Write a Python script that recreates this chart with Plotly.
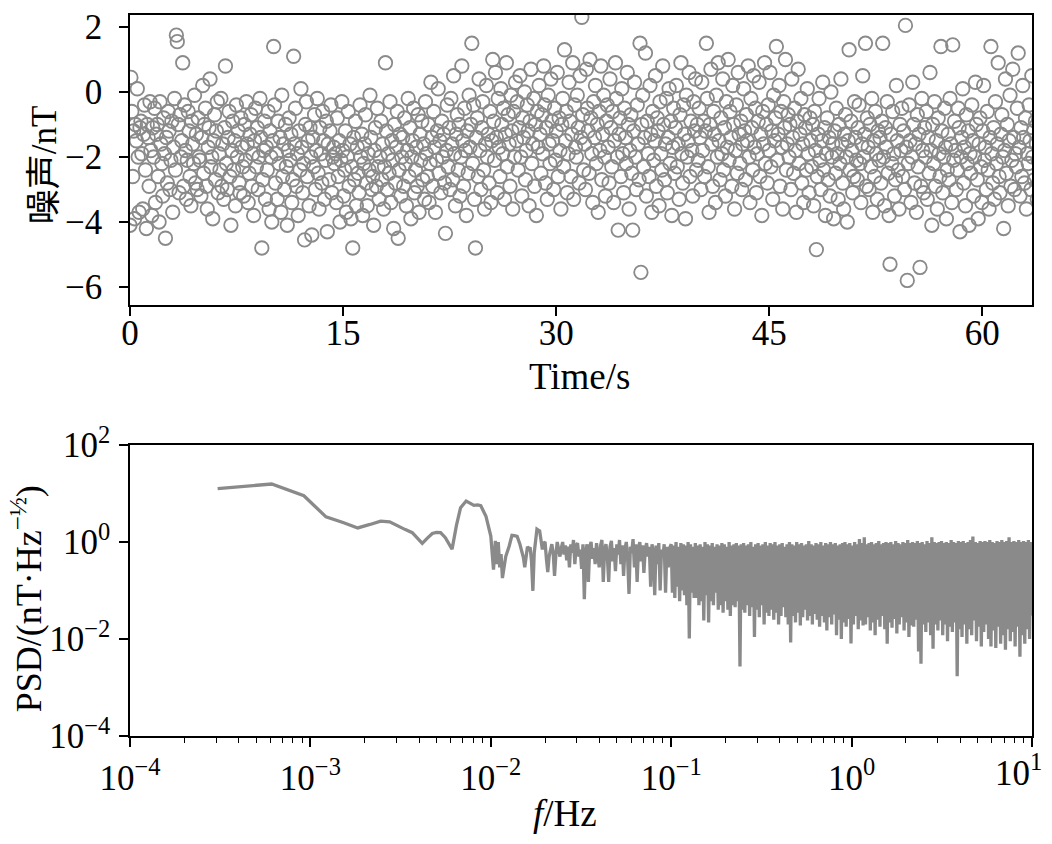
import numpy as np
import plotly.graph_objects as go

# ---- top panel: noise samples (nT), one sample every dt seconds ----
dt = 0.064
noise_nT = [
    -4.1, 0.45, -0.6, -2.6, -1.2, -3.9, -1.0, -1.5, 0.1, -2.0, -3.7, -1.1, -0.9, -1.9, -3.6, -1.3, -0.4, -2.4, -4.2, -1.0, -1.4, -2.9, -0.3, -1.8, -3.8,
    -1.1, -2.0, -0.5, -3.4, -1.3, -1.0, -2.6, -4.0, -0.3, -1.6, -2.2, -3.2, -0.8, -1.9, -4.5, -1.4, -2.8, -0.6, -1.2, -3.0, -2.1, -0.9, -3.7, -1.7, -0.2,
    -2.4, 1.75, 1.55, -1.0, -3.1, -0.7, -2.0, -1.5, 0.9, -2.9, -0.4, -1.8, -3.3, -2.1, -0.6, -1.2, -2.6, -3.5, -0.9, -1.6, -2.2, -0.1, -2.8, -1.3, -3.0,
    -0.8, -2.0, -2.1, -3.2, -1.4, 0.2, -2.5, -1.0, -0.5, -2.9, -3.6, -1.7, -1.1, 0.4, -2.3, -2.0, -3.9, -1.5, -0.7, -2.7, -1.2, -0.3, -3.1, -1.9, -2.4,
    -0.2, -2.9, -1.6, -3.3, -1.1, 0.8, -2.2, -3.0, -1.4, -0.6, -2.6, -4.1, -1.8, -0.9, -2.4, -1.5, -3.5, -0.4, -2.0, -1.2, -2.8, -3.1, -0.8, -1.7, -2.3,
    -3.2, -1.0, -2.1, -0.3, -1.6, -3.4, -2.5, -1.3, -0.7, -2.9, -1.9, -3.8, -1.5, -0.5, -2.3, -1.1, -3.0, -2.0, -0.2, -1.4, -4.8, -2.7, -1.8, -0.9, -3.3,
    -1.7, -2.4, -0.6, -3.6, -1.2, -2.0, -4.0, -1.5, 1.4, -0.4, -2.8, -1.9, -3.3, -0.9, -2.2, -1.4, -3.7, -0.1, -2.6, -1.6, -3.0, -1.0, -2.3, -4.1, -1.8,
    -0.8, -2.1, -1.3, -3.4, -2.7, 1.1, -1.6, -0.5, -2.9, -1.9, -3.8, -1.2, -2.4, 0.1, -1.7, -3.1, -2.2, -4.55, -1.0, -0.3, -2.6, -1.5, -3.5, -1.1, -2.0,
    -4.4, -1.4, -2.3, -0.7, -3.0, -1.8, -0.2, -2.5, -3.6, -1.1, -1.9, -2.8, -0.6, -1.5, -3.3, -2.1, -0.9, -4.3, -1.6, -2.7, -1.2, -0.4, -3.1, -2.0, -1.7,
    -2.2, -1.9, -3.4, -0.8, -2.6, -1.5, -4.0, -2.1, -0.3, -1.8, -3.2, -2.4, -1.2, -3.7, -2.0, -0.6, -2.9, -1.6, -3.9, -2.3, -4.8, -1.4, -2.7, -0.9, -3.5,
    -1.7, -2.5, -3.1, -0.4, -2.0, -1.3, -3.8, -2.2, -1.6, -0.7, -2.8, -3.5, -1.9, -2.4, -0.1, -1.4, -3.0, -2.6, -4.1, -1.8, -1.1, -2.9, -0.5, -2.3, -3.3,
    -2.0, -0.9, -2.7, -1.6, -3.6, -2.3, 0.9, -1.2, -3.0, -1.9, -2.5, -0.3, -3.4, -1.5, -2.1, -4.2, -1.0, -2.8, -1.7, -0.6, -4.5, -2.4, -1.3, -3.2, -2.0,
    -1.4, -2.9, -0.8, -2.2, -3.5, -1.8, -0.2, -2.6, -1.1, -3.9, -2.0, -1.5, -0.5, -3.1, -2.4, -1.7, -2.9, -0.7, -3.7, -1.3, -2.1, -0.9, -2.7, -1.6, -3.3,
    -0.3, -1.9, -2.6, -1.0, -3.4, -2.2, 0.3, -1.4, -2.9, -0.6, -1.7, -3.7, -2.1, -1.2, 0.1, -2.5, -1.5, -3.1, -0.9, -2.0, -1.3, -2.8, -4.35, -1.8, -0.4,
    -2.3, -1.1, -3.0, -0.2, -1.6, -2.7, 0.5, -1.9, -3.5, -1.3, -0.7, -2.4, -1.0, -3.2, -2.0, 0.8, -1.5, -2.9, -0.5, -1.8, -3.8, -1.2, -2.5, -0.1, -1.7,
    -1.0, 1.5, -2.2, -0.4, -3.3, -4.8, -1.4, -0.8, -2.6, 0.4, -1.8, -3.0, -1.1, -0.3, -2.4, -3.6, -1.6, 0.2, -2.0, -1.3, -2.8, -0.6, -3.4, -1.5, 1.0,
    -0.9, -2.1, 0.6, -1.4, -3.1, -0.2, -1.7, -2.6, 0.1, -1.0, -1.9, -0.5, -3.3, -1.3, 0.9, -2.3, -0.7, -1.6, -2.9, -0.1, -1.2, -3.6, -0.6, -2.0, 0.3,
    -1.5, -0.3, -2.4, -1.1, 0.5, -2.0, -3.2, -0.8, -1.4, 0.0, -2.7, -1.8, -0.4, -1.2, -3.5, -0.9, 0.7, -2.2, -1.6, -0.2, -2.9, -1.0, -3.8, -0.6, -1.7,
    0.2, -1.3, -2.5, -0.7, -1.9, 0.8, -0.4, -2.8, -1.1, -3.3, -0.1, -1.6, -2.2, 0.4, -0.9, -1.5, -3.0, -0.5, -2.1, -1.2, 0.6, -2.6, -0.8, -1.8, -3.6,
    -1.0, -0.2, -2.3, 1.3, -1.5, -0.6, -3.1, -1.9, 0.3, -0.9, -2.6, -1.3, 0.9, -3.3, -0.4, -1.7, -2.0, -0.1, -1.1, -2.8, 0.5, -1.4, 2.3, -0.7, -2.4,
    -1.6, -3.0, 0.7, -0.5, -1.2, -2.5, 1.0, -0.8, -1.9, -3.4, -0.3, -1.4, 0.2, -2.2, -1.0, -3.7, -0.6, -1.8, 0.8, -2.7, -1.3, -0.1, -2.0, -3.2, -0.9,
    -0.4, -1.7, -2.8, 0.4, -1.1, -2.3, -0.6, -3.4, -1.5, 0.9, -0.2, -2.0, -4.25, -1.3, -0.8, -2.6, 0.1, -1.9, -3.1, -0.5, -1.4, -2.2, 0.6, -1.0, -3.6,
    -1.8, -0.7, -2.5, -4.25, -1.2, 0.3, -2.0, -3.0, -0.4, -1.6, -2.7, 1.5, -5.55, -1.0, -0.1, -2.3, -1.4, 1.2, -3.2, -0.9, -1.9, -2.6, 0.2, -1.3, -3.7,
    -0.6, -2.1, -1.5, 0.5, -2.9, -0.8, -1.2, -3.5, -0.3, -1.9, -2.4, 0.8, -1.0, -2.7, -1.6, -0.2, -3.1, -1.4, 0.1, -2.2, -0.9, -3.8, -1.7, -0.5, -2.5,
    -1.1, 0.2, -2.3, -1.6, -3.3, -0.7, 0.9, -1.9, -2.8, -0.4, -1.3, -3.9, -0.1, -2.0, -1.5, 0.6, -2.6, -0.9, -1.8, -3.2, -0.3, -1.2, 0.4, -2.4, -1.0,
    -2.1, -0.5, -1.4, -3.0, 0.3, -1.8, -0.9, -2.6, -1.2, 1.5, -0.2, -2.3, -3.7, -1.0, 0.7, -1.6, -2.9, -0.6, -1.3, -3.4, -0.1, -2.0, 0.9, -1.5, -2.7,
    -0.8, -1.9, 0.4, -2.4, -1.1, -3.2, -0.3, -1.7, 1.0, -2.1, -0.6, -1.4, -2.9, 0.2, -1.0, -3.6, -1.8, -0.4, -2.5, 0.6, -1.3, -2.2, -0.9, -3.0, -1.6,
    0.1, -1.2, -2.7, -0.7, -1.5, 0.8, -2.0, -3.4, -0.2, -1.1, -2.4, 0.5, -1.7, -0.5, -3.1, -1.9, -0.9, 0.3, -2.6, -1.3, -3.8, -0.6, -1.6, 0.9, -2.2,
    -1.0, -2.8, -0.4, -1.8, 0.6, -2.3, -1.2, -3.3, -0.1, -1.5, -0.8, 1.4, -2.1, -1.3, 0.2, -2.9, -0.6, -1.7, -3.6, -0.3, -1.1, 1.0, -2.4, -1.6, -0.7,
    -2.0, -1.0, -3.0, 0.4, -1.4, -2.5, -0.5, -1.8, -3.7, -0.9, 0.7, -2.2, -1.3, -0.2, -2.8, -1.6, -3.4, -0.7, -1.1, -2.4, 0.1, -1.9, -3.1, -0.8, -1.5,
    -2.3, -1.0, -3.5, -0.6, -1.8, -4.85, -2.6, -1.3, -0.2, -2.1, -3.0, -1.5, 0.3, -2.4, -1.1, -3.8, -1.9, -0.8, -2.7, -1.4, -3.2, 0.0, -2.0, -1.6, -3.9,
    -1.2, -2.5, -0.5, -1.9, -3.3, -1.0, -2.2, 0.4, -1.6, -2.8, -3.6, -1.3, -0.7, -2.0, -4.0, -1.5, 1.3, -2.4, -0.9, -1.8, -3.1, -2.6, -0.3, -1.4, -2.1,
    -2.7, -1.1, -0.4, -2.2, -3.4, -1.6, 0.5, -2.0, -1.3, 1.5, -2.9, -0.8, -1.7, -3.0, -1.0, -2.3, -0.2, -3.7, -1.5, -2.6, -0.6, -1.9, -3.3, -1.2, -2.1,
    -1.4, -2.8, -0.9, 1.5, -2.0, -3.5, -1.1, -1.7, -0.3, -2.5, -3.8, -5.3, -1.3, -2.2, -0.6, -1.9, -3.2, -2.7, 0.2, -1.5, -2.4, -3.6, -1.0, -1.8, -0.5,
    -2.6, -1.2, -3.0, 2.05, -1.7, -5.8, -2.2, -0.4, -1.5, -3.4, -2.0, 0.3, -1.0, -2.8, -1.6, -3.7, -0.7, -2.3, -1.3, -5.4, -2.9, -0.2, -1.8, -3.1, -1.1,
    -2.0, -0.6, -3.3, -1.4, -2.5, 0.6, -1.8, -4.1, -1.0, -2.2, -0.3, -2.9, -1.5, -3.6, -0.8, -1.9, -2.6, 1.4, -1.2, -3.1, -2.0, -0.5, -1.7, -3.9, -2.4,
    -1.3, -2.7, -0.2, -1.6, -3.4, 1.45, -2.1, -0.9, -1.8, -3.0, -2.4, -0.5, -1.1, -4.3, -2.0, -1.4, 0.1, -2.8, -1.7, -3.5, -0.7, -2.2, -1.2, -4.1, -1.9,
    -2.5, -0.4, -1.5, -3.2, -2.0, 0.3, -1.0, -2.7, -3.9, -1.6, -0.8, -2.3, -3.4, -1.2, 0.2, -2.1, -1.7, -3.0, -0.6, -2.4, -3.6, -1.4, 1.4, -1.9, -2.8,
    -1.1, -3.3, -0.3, -2.2, -1.6, 0.9, -2.6, -3.1, -1.3, -0.7, -2.0, -4.2, -1.8, 0.4, -2.5, -1.0, -3.5, -1.5, -0.1, -2.9, -2.1, 0.7, -1.4, -3.0, -1.9,
    -2.3, -0.5, 1.2, -1.7, -3.2, -1.1, -2.6, 0.2, -1.4, -2.8, -0.8, -3.6, -1.9, -2.2, -0.4, -1.5, -3.0, 0.5, -2.0, -1.2, -2.7, -0.9, -1.6, -3.3, -2.1,
]
time_s = np.arange(len(noise_nT)) * dt

# ---- bottom panel: PSD ----
# low-frequency part, read point by point
psd_low_f = [3.06e-4, 6.1e-4, 9.2e-4, 1.22e-3, 1.53e-3, 1.83e-3, 2.14e-3, 2.45e-3, 2.75e-3,
             3.06e-3, 3.36e-3, 3.67e-3, 3.98e-3, 4.17e-3, 4.45e-3, 4.74e-3, 5.0e-3, 5.27e-3,
             5.6e-3, 6.1e-3, 6.45e-3, 6.8e-3, 7.3e-3, 7.7e-3, 8.07e-3, 8.45e-3, 8.8e-3, 9.4e-3,
             1.0e-2, 1.035e-2, 1.06e-2, 1.08e-2, 1.10e-2, 1.12e-2, 1.14e-2, 1.16e-2, 1.21e-2,
             1.265e-2, 1.31e-2, 1.35e-2, 1.40e-2, 1.45e-2]
psd_low = [12.6, 15.7, 9.0, 3.3, 2.5, 1.95, 2.3, 2.7, 2.6,
           2.1, 1.8, 1.56, 1.1, 0.94, 1.2, 1.5, 1.58, 1.56,
           1.23, 0.71, 2.2, 5.1, 7.0, 6.2, 5.7, 5.8, 5.6, 3.4,
           1.33, 0.27, 1.05, 0.35, 1.0, 0.3, 0.56, 0.18, 0.5,
           0.83, 1.37, 1.35, 1.3, 0.9]

# 0.015 - 0.1 Hz
psd_mid = [0.65, 0.48, 0.30, 0.55, 0.80, 0.72, 0.77, 0.40, 0.098, 0.6, 1.2, 1.83, 1.75, 1.7, 1.1,
           0.7, 0.95, 1.0, 0.45, 0.24, 0.5, 0.65, 0.9, 0.6, 0.2, 0.55, 1.0, 0.7, 0.5, 0.75,
           1.0, 0.55, 0.85, 0.42, 0.8, 0.3, 0.9, 0.6, 1.1, 0.35, 0.85, 0.95, 0.5, 0.7, 0.28,
           0.9, 0.066, 0.6, 0.9, 0.15, 0.8, 1.0, 0.45, 0.75, 0.35, 0.95, 0.6, 0.3, 0.85, 1.1,
           0.15, 0.7, 0.9, 0.5, 0.15, 0.8, 1.05, 0.4, 0.75, 0.25, 0.9, 0.55, 1.1, 0.35, 0.85,
           0.2, 0.7, 1.0, 0.45, 0.085, 0.8, 0.6, 1.15, 0.3, 0.9, 0.15, 0.75, 1.0, 0.4, 0.85,
           0.23, 0.7, 0.95, 0.5, 0.8, 0.12, 0.9, 0.6, 0.08, 0.85, 0.35, 0.95, 0.1, 0.7, 0.5,
           0.9, 0.09, 0.8, 0.3, 0.75]
mid_f_start, mid_f_end = 0.0149, 0.098

# 0.1 - 10 Hz
psd_high = [
    0.9, 0.09, 0.85, 0.07, 1.0, 0.12, 0.8, 0.06, 0.95, 0.1, 0.9, 0.08, 0.85, 0.05, 1.0, 0.0102, 0.9, 0.09, 0.8, 0.07,
    0.95, 0.07, 0.85, 0.05, 0.9, 0.06, 0.8, 0.024, 1.0, 0.08, 0.9, 0.022, 0.85, 0.06, 0.95, 0.05, 0.8, 0.09, 0.9, 0.04,
    0.85, 0.05, 0.95, 0.035, 0.9, 0.06, 0.8, 0.04, 1.0, 0.03, 0.85, 0.05, 0.9, 0.045, 0.95, 0.06, 0.85, 0.0027, 0.9, 0.04,
    0.95, 0.035, 0.85, 0.05, 0.9, 0.03, 1.0, 0.045, 0.8, 0.011, 0.9, 0.04, 0.95, 0.028, 0.85, 0.05, 0.9, 0.02, 1.0, 0.035,
    0.85, 0.03, 0.95, 0.04, 0.9, 0.025, 1.0, 0.035, 0.85, 0.02, 0.9, 0.03, 0.95, 0.045, 0.8, 0.028, 0.9, 0.02, 1.0, 0.0085,
    0.9, 0.03, 0.85, 0.022, 1.0, 0.035, 0.9, 0.019, 0.95, 0.028, 0.85, 0.04, 0.9, 0.024, 1.05, 0.03, 0.9, 0.02, 0.85, 0.033,
    0.95, 0.025, 0.9, 0.018, 1.0, 0.03, 0.85, 0.022, 0.95, 0.015, 0.9, 0.028, 1.0, 0.02, 0.9, 0.032, 0.95, 0.012, 0.85, 0.025,
    0.9, 0.01, 0.95, 0.022, 1.0, 0.018, 0.9, 0.026, 0.95, 0.0081, 0.85, 0.02, 1.0, 0.03, 0.9, 0.016, 1.15, 0.024, 0.95, 0.019,
    1.25, 0.02, 0.9, 0.028, 0.95, 0.015, 1.0, 0.022, 0.9, 0.012, 0.95, 0.025, 1.05, 0.018, 0.9, 0.03, 0.95, 0.016, 1.0, 0.008,
    0.95, 0.022, 1.0, 0.017, 0.9, 0.026, 1.05, 0.013, 0.95, 0.02, 0.9, 0.028, 1.0, 0.015, 0.95, 0.022, 1.1, 0.011, 0.95, 0.019,
    1.0, 0.018, 0.95, 0.025, 1.05, 0.0055, 0.95, 0.0031, 1.0, 0.02, 0.9, 0.014, 1.05, 0.022, 0.95, 0.012, 1.25, 0.0063, 1.0, 0.02,
    0.95, 0.015, 1.0, 0.024, 1.05, 0.012, 0.95, 0.02, 1.0, 0.009, 0.95, 0.018, 1.1, 0.014, 1.0, 0.022, 0.95, 0.0017, 1.05, 0.016,
    1.0, 0.011, 1.05, 0.02, 0.95, 0.008, 1.0, 0.016, 1.1, 0.012, 1.3, 0.024, 1.0, 0.009, 0.95, 0.018, 1.05, 0.007, 1.0, 0.014,
    1.05, 0.02, 1.0, 0.01, 1.1, 0.007, 1.0, 0.015, 0.95, 0.0065, 1.05, 0.018, 1.0, 0.008, 1.1, 0.012, 1.0, 0.006, 1.05, 0.016,
    1.25, 0.009, 1.0, 0.014, 1.05, 0.007, 1.0, 0.018, 1.1, 0.0043, 1.0, 0.012, 1.05, 0.008, 1.0, 0.016, 1.1, 0.01, 1.0, 0.03,
]
high_f_start, high_f_end = 0.1, 10.0

freq = np.concatenate([
    psd_low_f,
    np.geomspace(mid_f_start, mid_f_end, len(psd_mid)),
    np.geomspace(high_f_start, high_f_end, len(psd_high)),
])
psd = np.concatenate([psd_low, psd_mid, psd_high])

x_ticks_top = [0, 15, 30, 45, 60]
y_ticks_top = [-6, -4, -2, 0, 2]
x_ticks_log = [1e-4, 1e-3, 1e-2, 1e-1, 1e0, 1e1]
# the last label sits on the page edge, it is drawn as an annotation instead
x_ticktext_log = ["10<sup>−4</sup>", "10<sup>−3</sup>", "10<sup>−2</sup>",
                  "10<sup>−1</sup>", "10<sup>0</sup>", ""]
y_ticks_log = [1e-4, 1e-2, 1e0, 1e2]
y_ticktext_log = ["10<sup>−4</sup>", "10<sup>−2</sup>", "10<sup>0</sup>", "10<sup>2</sup>"]

grey = "#8a8a8a"
font_family = "Liberation Serif, Times New Roman, serif"
cjk_family = "Liberation Serif, Noto Sans CJK SC, serif"

fig = go.Figure()

fig.add_trace(go.Scatter(
    x=time_s, y=noise_nT, mode="markers",
    marker=dict(symbol="circle-open", size=13.5, color=grey, line=dict(width=1.8, color=grey)),
    xaxis="x", yaxis="y", showlegend=False,
))

fig.add_trace(go.Scatter(
    x=freq, y=psd, mode="lines",
    line=dict(color=grey, width=3.3),
    xaxis="x2", yaxis="y2", showlegend=False,
))

axis_common = dict(
    showline=True, linecolor="black", linewidth=1.5, mirror=True,
    ticks="outside", ticklen=9, tickwidth=1.5, tickcolor="black",
    showgrid=False, zeroline=False, automargin=False,
    tickfont=dict(size=35, color="black", family=font_family),
)

title_font = dict(size=37, color="black", family=font_family)

# the page body adds an 8 px offset, so the figure is 16 px smaller than the window
fig.update_layout(
    width=1036, height=828,
    paper_bgcolor="white", plot_bgcolor="white",
    margin=dict(l=122, r=12, t=7, b=100),
    font=dict(family=font_family, color="black"),
    xaxis=dict(
        **axis_common, domain=[0, 1], anchor="y",
        range=[0, 63.5], tickvals=x_ticks_top, ticklabelstandoff=-13,
    ),
    yaxis=dict(
        **axis_common, domain=[0.598, 1.0], anchor="x",
        range=[-6.55, 2.37], tickvals=y_ticks_top, ticklabelstandoff=10,
    ),
    xaxis2=dict(
        **axis_common, domain=[0, 1], anchor="y2", type="log",
        range=[-4, 1], tickvals=x_ticks_log, ticktext=x_ticktext_log, ticklabelstandoff=1,
        minor=dict(ticks="outside", ticklen=5, tickwidth=1.2, tickcolor="black", dtick="D1", showgrid=False),
    ),
    yaxis2=dict(
        **axis_common, domain=[0, 0.4036], anchor="x2", type="log",
        range=[-4, 2], tickvals=y_ticks_log, ticktext=y_ticktext_log, ticklabelstandoff=2,
    ),
    annotations=[
        dict(text="Time/s", xref="paper", yref="paper", x=0.498, y=0.499,
             xanchor="center", yanchor="middle", showarrow=False, font=title_font),
        dict(text="<i>f</i>/Hz", xref="paper", yref="paper", x=0.482, y=-0.108,
             xanchor="center", yanchor="middle", showarrow=False, font=title_font),
        dict(text="噪声/nT", xref="paper", yref="paper", x=-0.094, y=0.792, textangle=-90,
             xanchor="center", yanchor="middle", showarrow=False,
             font=dict(size=35, color="black", family=cjk_family)),
        dict(text="PSD/(nT·Hz<sup>−½</sup>)", xref="paper", yref="paper", x=-0.115, y=0.19,
             textangle=-90, xanchor="center", yanchor="middle", showarrow=False,
             font=dict(size=36, color="black", family=font_family)),
        dict(text="10<sup>1</sup>", xref="paper", yref="paper", x=1.0133, y=-0.014,
             xanchor="right", yanchor="top", showarrow=False,
             font=dict(size=35, color="black", family=font_family)),
    ],
)

fig.write_html("out.html")
